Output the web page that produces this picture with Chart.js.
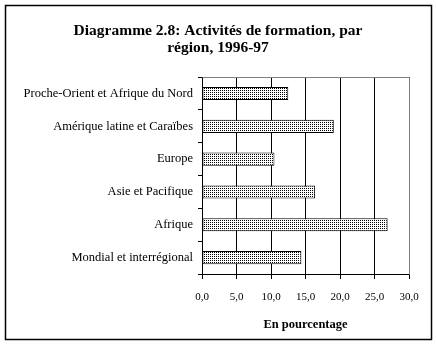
<!DOCTYPE html>
<html>
<head>
<meta charset="utf-8">
<script src="https://cdn.jsdelivr.net/npm/chart.js@4/dist/chart.umd.min.js"></script>
<style>
html,body{margin:0;padding:0;background:#fff;}
#wrap{width:436px;height:346px;position:relative;}
</style>
</head>
<body>
<div id="wrap"><canvas id="c" width="436" height="346"></canvas></div>
<script>
const titleLines = ['Diagramme 2.8: Activités de formation, par', 'région, 1996-97'];
const categories = ['Proche-Orient et Afrique du Nord', 'Amérique latine et Caraïbes', 'Europe', 'Asie et Pacifique', 'Afrique', 'Mondial et interrégional'];
const values = [12.5, 19.1, 10.5, 16.4, 26.9, 14.4];
const xTickLabels = ['0,0', '5,0', '10,0', '15,0', '20,0', '25,0', '30,0'];
const xAxisTitle = 'En pourcentage';

const SERIF = '"Liberation Serif", "Times New Roman", serif';

function makePattern() {
  const p = document.createElement('canvas');
  p.width = 4; p.height = 4;
  const g = p.getContext('2d');
  g.fillStyle = '#fff';
  g.fillRect(0, 0, 4, 4);
  g.fillStyle = '#000';
  g.fillRect(0, 0, 1, 1);
  g.fillRect(2, 2, 1, 1);
  g.fillRect(2, 0, 1, 1);
  g.fillRect(0, 2, 1, 1);
  return document.getElementById('c').getContext('2d').createPattern(p, 'repeat');
}

const framePlugin = {
  id: 'frame',
  beforeDraw(chart) {
    const ctx = chart.ctx;
    ctx.save();
    ctx.fillStyle = '#fff';
    ctx.fillRect(0, 0, chart.width, chart.height);
    ctx.restore();
  },
  afterDraw(chart) {
    const ctx = chart.ctx;
    const a = chart.chartArea;
    ctx.save();
    ctx.strokeStyle = '#808080';
    ctx.lineWidth = 1;
    ctx.beginPath();
    ctx.moveTo(Math.round(a.left) + 0.5, Math.round(a.top) + 0.5);
    ctx.lineTo(Math.round(a.right) + 0.5, Math.round(a.top) + 0.5);
    ctx.lineTo(Math.round(a.right) + 0.5, Math.round(a.bottom) + 0.5);
    ctx.stroke();
    ctx.strokeStyle = '#000';
    ctx.lineWidth = 1.5;
    ctx.strokeRect(5.5, 5.5, 426, 334);
    ctx.restore();
  }
};

new Chart(document.getElementById('c'), {
  type: 'bar',
  data: {
    labels: categories,
    datasets: [{
      data: values,
      backgroundColor: makePattern(),
      borderColor: '#000',
      borderWidth: 1,
      borderSkipped: false,
      barPercentage: 0.4,
      categoryPercentage: 1.0
    }]
  },
  options: {
    indexAxis: 'y',
    responsive: false,
    animation: false,
    devicePixelRatio: 1,
    layout: { padding: { left: 0, right: 0, top: 0, bottom: 0 } },
    plugins: {
      legend: { display: false },
      tooltip: { enabled: false },
      title: {
        display: true,
        text: titleLines,
        color: '#000',
        font: { family: SERIF, size: 15.5, weight: 'bold', lineHeight: 1.1 },
        padding: { top: 22, bottom: 21 }
      }
    },
    scales: {
      x: {
        min: 0, max: 30,
        ticks: {
          stepSize: 5,
          color: '#000',
          font: { family: SERIF, size: 11 },
          padding: 12,
          maxRotation: 0,
          callback: (v, i) => xTickLabels[i]
        },
        grid: { color: '#000', lineWidth: 1, drawTicks: true, tickLength: 5 },
        border: { display: true, color: '#000', width: 1 },
        title: {
          display: true,
          text: xAxisTitle,
          color: '#000',
          font: { family: SERIF, size: 12.5, weight: 'bold' },
          padding: { top: 0, bottom: 14 }
        },
        afterFit(scale) { scale.height = 72; scale.paddingRight = 27; }
      },
      y: {
        ticks: {
          color: '#000',
          font: { family: SERIF, size: 12.5 },
          padding: 5,
          autoSkip: false
        },
        grid: { offset: true, drawOnChartArea: false, drawTicks: true, tickLength: 4, color: '#000' },
        border: { display: true, color: '#000', width: 1 },
        afterFit(scale) { scale.width = 202; }
      }
    }
  },
  plugins: [framePlugin]
});
</script>
</body>
</html>
